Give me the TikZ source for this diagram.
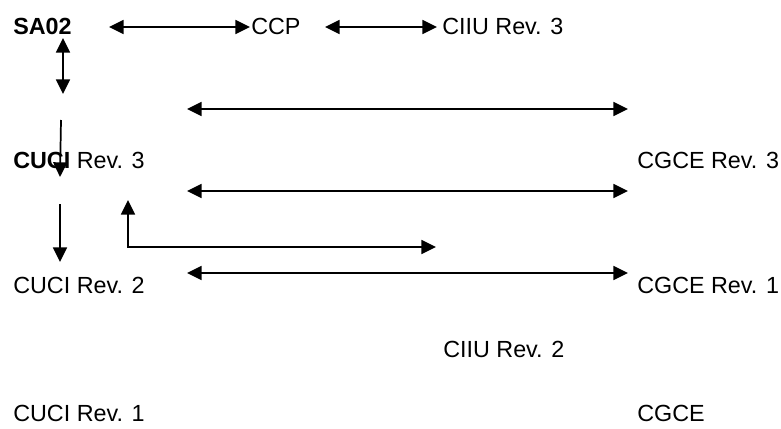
\documentclass[tikz,border=0pt]{standalone}
\usepackage{fontspec}
\setmainfont{Liberation Sans}
\usetikzlibrary{arrows.meta}
\begin{document}
\begin{tikzpicture}[x=0.75pt,y=-0.75pt,
	lbl/.style={anchor=base west,inner sep=0pt,font=\fontsize{17.5}{21}\selectfont},
	tip/.style={line width=1.3pt,-{Triangle[length=11pt,width=10.5pt]}},
	twotip/.style={line width=1.3pt,{Triangle[length=11pt,width=10.5pt]}-{Triangle[length=11pt,width=10.5pt]}}]
	\useasboundingbox (0,0) rectangle (781,428);
	% labels
	\node[lbl] (sa02) at (13,35) {\textbf{SA02}};
	\node[lbl] (ccp) at (251,35) {CCP};
	\node[lbl] (ciiu3) at (442,35) {CIIU Rev. 3};
	\node[lbl] (cuci3) at (13,168) {\textbf{CUCI} Rev. 3};
	\node[lbl] (cgce3) at (637,168) {CGCE Rev. 3};
	\node[lbl] (cuci2) at (13,293) {CUCI Rev. 2};
	\node[lbl] (cgce1) at (637,293) {CGCE Rev. 1};
	\node[lbl] (ciiu2) at (443,357) {CIIU Rev. 2};
	\node[lbl] (cuci1) at (13,421) {CUCI Rev. 1};
	\node[lbl] (cgce) at (637,421) {CGCE};
	% arrow ends
	\coordinate (a1) at (109,27);
	\coordinate (a2) at (250,27);
	\coordinate (a3) at (325,27);
	\coordinate (a4) at (437,27);
	\coordinate (v1) at (63,38);
	\coordinate (v2) at (63,94);
	\coordinate (d1) at (61,120);
	\coordinate (d2) at (60,177);
	\coordinate (d3) at (60,204);
	\coordinate (d4) at (60,262);
	\coordinate (l1) at (128,200);
	\coordinate (l2) at (436,247);
	\coordinate (h1) at (187,109);
	\coordinate (h2) at (628,109);
	\coordinate (h3) at (187,191);
	\coordinate (h4) at (628,191);
	\coordinate (h5) at (187,273);
	\coordinate (h6) at (628,273);
	% arrows
	\draw[twotip] (a1)--(a2);
	\draw[twotip] (a3)--(a4);
	\draw[twotip] (v1)--(v2);
	\draw[tip] (d1)--(d2);
	\draw[tip] (d3)--(d4);
	\draw[twotip] (l1)|-(l2);
	\draw[twotip] (h1)--(h2);
	\draw[twotip] (h3)--(h4);
	\draw[twotip] (h5)--(h6);
\end{tikzpicture}
\end{document}
